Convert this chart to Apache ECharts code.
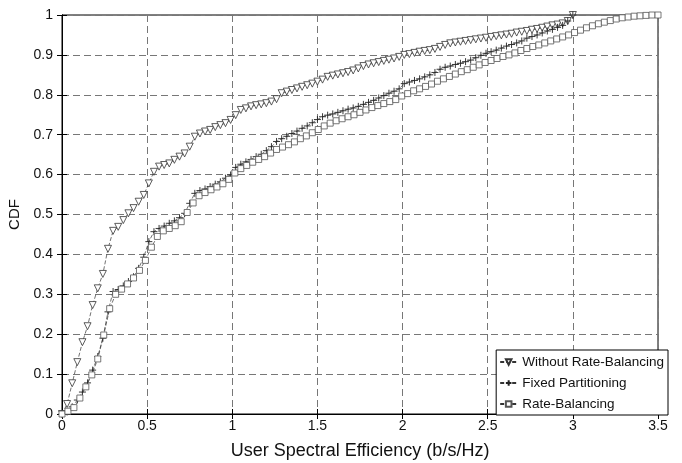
<!DOCTYPE html>
<html>
<head>
<meta charset="utf-8">
<script src="https://cdn.jsdelivr.net/npm/echarts@6/dist/echarts.min.js"></script>
<style>html,body{margin:0;padding:0;background:#fff}#c{width:682px;height:463px}</style>
</head>
<body>
<div id="c"></div>
<script>
// x positions (b/s/Hz) of the CDF samples
const xGridA = [0,0.03,0.06,0.09,0.12,0.15,0.18,0.21,0.24,0.27,0.3,0.33,0.36,0.39,0.42,0.45,0.48,0.51,0.54,0.57,0.6,0.63,0.66,0.69,0.72,0.75,0.78,0.81,0.84,0.87,0.9,0.93,0.96,0.99,1.02,1.05,1.08,1.11,1.14,1.17,1.2,1.23,1.26,1.29,1.32,1.35,1.38,1.41,1.44,1.47,1.5,1.53,1.56,1.59,1.62,1.65,1.68,1.71,1.74,1.77,1.8,1.83,1.86,1.89,1.92,1.95,1.98,2.01,2.04,2.07,2.1,2.13,2.16,2.19,2.22,2.25,2.28,2.31,2.34,2.37,2.4,2.43,2.46,2.49,2.52,2.55,2.58,2.61,2.64,2.67,2.7,2.73,2.76,2.79,2.82,2.85,2.88,2.91,2.94,2.97,3];
const xGridB = [0,0.035,0.07,0.105,0.14,0.175,0.21,0.245,0.28,0.315,0.35,0.385,0.42,0.455,0.49,0.525,0.56,0.595,0.63,0.665,0.7,0.735,0.77,0.805,0.84,0.875,0.91,0.945,0.98,1.015,1.05,1.085,1.12,1.155,1.19,1.225,1.26,1.295,1.33,1.365,1.4,1.435,1.47,1.505,1.54,1.575,1.61,1.645,1.68,1.715,1.75,1.785,1.82,1.855,1.89,1.925,1.96,1.995,2.03,2.065,2.1,2.135,2.17,2.205,2.24,2.275,2.31,2.345,2.38,2.415,2.45,2.485,2.52,2.555,2.59,2.625,2.66,2.695,2.73,2.765,2.8,2.835,2.87,2.905,2.94,2.975,3.01,3.045,3.08,3.115,3.15,3.185,3.22,3.255,3.29,3.325,3.36,3.395,3.43,3.465,3.5];

const cdfWithoutRB = [0,0.025,0.077,0.13,0.18,0.22,0.273,0.315,0.351,0.414,0.459,0.469,0.486,0.503,0.516,0.532,0.549,0.578,0.607,0.62,0.624,0.628,0.637,0.645,0.653,0.67,0.695,0.703,0.708,0.712,0.719,0.724,0.729,0.737,0.749,0.762,0.766,0.771,0.774,0.776,0.779,0.783,0.789,0.804,0.808,0.812,0.816,0.82,0.824,0.828,0.833,0.838,0.845,0.848,0.851,0.854,0.857,0.861,0.866,0.872,0.876,0.879,0.882,0.885,0.888,0.891,0.895,0.9,0.902,0.905,0.908,0.91,0.912,0.915,0.92,0.925,0.929,0.931,0.933,0.935,0.937,0.939,0.941,0.943,0.945,0.947,0.949,0.951,0.953,0.956,0.958,0.96,0.963,0.965,0.968,0.971,0.974,0.976,0.979,0.985,1];
const cdfFixed = [0,0.005,0.018,0.035,0.055,0.078,0.11,0.144,0.19,0.256,0.307,0.312,0.321,0.332,0.344,0.365,0.393,0.432,0.457,0.465,0.471,0.478,0.484,0.492,0.503,0.528,0.553,0.56,0.564,0.57,0.576,0.582,0.591,0.599,0.618,0.626,0.632,0.638,0.645,0.651,0.66,0.67,0.683,0.69,0.696,0.703,0.709,0.716,0.722,0.73,0.738,0.745,0.749,0.752,0.756,0.76,0.764,0.767,0.771,0.776,0.781,0.786,0.792,0.798,0.804,0.809,0.815,0.828,0.832,0.836,0.84,0.845,0.85,0.856,0.864,0.869,0.872,0.876,0.879,0.883,0.887,0.893,0.899,0.904,0.908,0.912,0.917,0.922,0.926,0.93,0.935,0.942,0.946,0.95,0.955,0.96,0.964,0.969,0.974,0.985,1];
const cdfRB = [0,0.007,0.016,0.04,0.068,0.098,0.138,0.198,0.264,0.3,0.313,0.326,0.341,0.36,0.385,0.418,0.445,0.459,0.465,0.472,0.482,0.505,0.529,0.547,0.555,0.562,0.569,0.577,0.588,0.604,0.615,0.623,0.631,0.638,0.645,0.654,0.663,0.669,0.675,0.682,0.69,0.697,0.705,0.713,0.722,0.729,0.735,0.74,0.745,0.75,0.756,0.762,0.768,0.773,0.778,0.783,0.788,0.797,0.803,0.81,0.815,0.821,0.827,0.834,0.84,0.846,0.852,0.858,0.863,0.869,0.875,0.881,0.886,0.891,0.896,0.9,0.905,0.911,0.916,0.921,0.925,0.93,0.935,0.94,0.945,0.95,0.956,0.962,0.968,0.973,0.978,0.982,0.986,0.99,0.993,0.995,0.997,0.998,0.999,1,1];

const seriesNames = ['Without Rate-Balancing','Fixed Partitioning','Rate-Balancing'];
const xTitle = 'User Spectral Efficiency (b/s/Hz)';
const yTitle = 'CDF';

function pairs(xs, ys){ return ys.map((y,i)=>[xs[i], y]); }

const chart = echarts.init(document.getElementById('c'), null, {renderer:'canvas'});
const font = "'Liberation Sans', Arial, Helvetica, sans-serif";
const lineStyle = {color:'#333', width:0.7, type:[4,2]};
const markStyle = {color:'#fff', borderColor:'#333', borderWidth:0.8};
const gridDash = {color:'#777', width:1, type:[7,4]};

chart.setOption({
  animation:false,
  backgroundColor:'#fff',
  grid:{left:62, right:24, top:15, bottom:49, show:true, borderColor:'#000', borderWidth:1, backgroundColor:'transparent', containLabel:false, outerBoundsMode:'none'},
  legend:{
    orient:'vertical', right:14, top:350,
    itemWidth:17, itemHeight:7, itemGap:7,
    padding:[5,4,4,3],
    borderColor:'#000', borderWidth:1, backgroundColor:'#fff', borderRadius:0,
    textStyle:{fontFamily:font, fontSize:13.5, color:'#111'},
    data:seriesNames
  },
  xAxis:[{
    type:'value', min:0, max:3.5, interval:0.5, position:'bottom',
    name:xTitle, nameLocation:'middle', nameGap:28,
    nameTextStyle:{fontFamily:font, fontSize:18, color:'#111'},
    axisLine:{show:true, lineStyle:{color:'#000', width:1}},
    axisTick:{show:true, inside:true, length:5, lineStyle:{color:'#000'}},
    axisLabel:{fontFamily:font, fontSize:14, color:'#111', margin:5},
    splitLine:{show:true, lineStyle:gridDash}
  },{
    type:'value', min:0, max:3.5, interval:0.5, position:'top',
    axisLine:{show:true, lineStyle:{color:'#000', width:1}},
    axisTick:{show:true, inside:true, length:5, lineStyle:{color:'#000'}},
    axisLabel:{show:false}, splitLine:{show:false}
  }],
  yAxis:[{
    type:'value', min:0, max:1, interval:0.1, position:'left',
    name:yTitle, nameLocation:'middle', nameGap:34,
    nameTextStyle:{fontFamily:font, fontSize:15, color:'#111'},
    axisLine:{show:true, lineStyle:{color:'#000', width:1}},
    axisTick:{show:true, inside:true, length:5, lineStyle:{color:'#000'}},
    axisLabel:{fontFamily:font, fontSize:14, color:'#111', margin:9},
    splitLine:{show:true, lineStyle:gridDash}
  },{
    type:'value', min:0, max:1, interval:0.1, position:'right',
    axisLine:{show:true, lineStyle:{color:'#000', width:1}},
    axisTick:{show:true, inside:true, length:5, lineStyle:{color:'#000'}},
    axisLabel:{show:false}, splitLine:{show:false}
  }],
  series:[{
    name:seriesNames[0], type:'line', xAxisIndex:0, yAxisIndex:0,
    data:pairs(xGridA, cdfWithoutRB),
    symbol:'triangle', symbolRotate:180, symbolSize:7, showAllSymbol:true,
    lineStyle:lineStyle, itemStyle:markStyle
  },{
    name:seriesNames[1], type:'line', xAxisIndex:0, yAxisIndex:0,
    data:pairs(xGridA, cdfFixed),
    symbol:'path://M5,0L5,10M0,5L10,5', symbolSize:7, showAllSymbol:true,
    lineStyle:lineStyle, itemStyle:{color:'none', borderColor:'#222', borderWidth:0.9}
  },{
    name:seriesNames[2], type:'line', xAxisIndex:0, yAxisIndex:0,
    data:pairs(xGridB, cdfRB),
    symbol:'rect', symbolSize:6, showAllSymbol:true,
    lineStyle:lineStyle, itemStyle:{color:'#fff', borderColor:'#555', borderWidth:0.8}
  }]
});
</script>
</body>
</html>
